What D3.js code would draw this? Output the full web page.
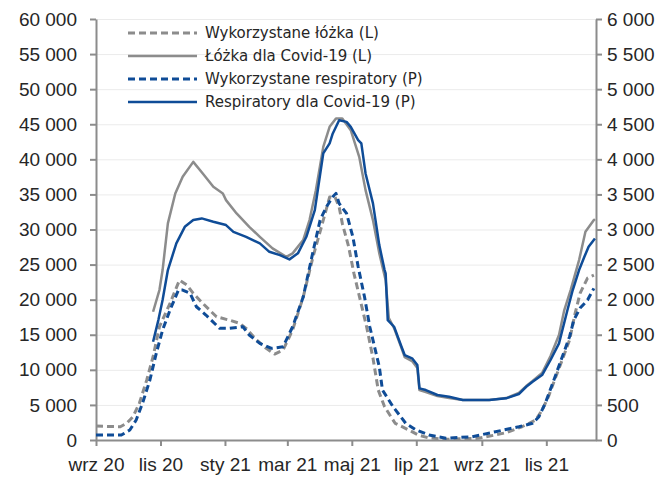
<!DOCTYPE html>
<html>
<head>
<meta charset="utf-8">
<script src="https://cdn.jsdelivr.net/npm/d3@7"></script>
<style>
  body { margin: 0; background: #fff; }
  svg { display: block; font-family: "DejaVu Sans", sans-serif; }
  .grid line { stroke: #ebebeb; stroke-width: 1; }
  .grid .domain { display: none; }
  .axis .domain, .axis line { stroke: #8c8c8c; stroke-width: 2; }
  .axis text { fill: #262626; font-size: 19px; }
</style>
</head>
<body>
<div id="chart"></div>
<script>
// wykorzystane lozka (lewa os)
var bedsUsed = [
  ["2020-09-01", 2000], ["2020-09-14", 1920], ["2020-09-24", 1890], ["2020-09-30", 2380],
  ["2020-10-06", 3320], ["2020-10-12", 5230], ["2020-10-19", 8550], ["2020-10-25", 11870],
  ["2020-10-31", 16140], ["2020-11-10", 19470], ["2020-11-19", 22790], ["2020-11-26", 22080],
  ["2020-12-02", 20900], ["2020-12-11", 19470], ["2020-12-24", 17560], ["2021-01-05", 17090],
  ["2021-01-15", 16620], ["2021-01-21", 15910], ["2021-01-31", 14250], ["2021-02-09", 13060],
  ["2021-02-17", 12250], ["2021-02-25", 12820], ["2021-03-06", 15670], ["2021-03-16", 20370],
  ["2021-03-25", 25930], ["2021-04-04", 31340], ["2021-04-10", 34620], ["2021-04-15", 34660],
  ["2021-04-19", 33230], ["2021-04-22", 30870], ["2021-04-28", 27540], ["2021-05-03", 23750],
  ["2021-05-09", 19940], ["2021-05-15", 16140], ["2021-05-21", 11680], ["2021-05-26", 7120],
  ["2021-06-01", 4740], ["2021-06-11", 2380], ["2021-06-24", 1420], ["2021-07-03", 710],
  ["2021-07-12", 330], ["2021-07-28", 100], ["2021-08-29", 240], ["2021-09-24", 1040],
  ["2021-10-09", 1890], ["2021-10-22", 2850], ["2021-10-28", 4270], ["2021-11-03", 6170],
  ["2021-11-10", 9020], ["2021-11-16", 11400], ["2021-11-23", 14250], ["2021-11-28", 17900],
  ["2021-12-03", 20940], ["2021-12-10", 23080], ["2021-12-16", 23500]
];

// lozka dla Covid-19 (lewa os)
var bedsTotal = [
  ["2020-10-25", 18280], ["2020-10-31", 21370], ["2020-11-03", 24220], ["2020-11-08", 30870],
  ["2020-11-15", 35140], ["2020-11-22", 37510], ["2020-12-02", 39640], ["2020-12-11", 37990],
  ["2020-12-21", 36080], ["2020-12-30", 35140], ["2021-01-02", 34190], ["2021-01-12", 32290],
  ["2021-01-24", 30380], ["2021-02-03", 28960], ["2021-02-15", 27310], ["2021-02-28", 26110],
  ["2021-03-06", 26600], ["2021-03-16", 28490], ["2021-03-22", 31340], ["2021-03-28", 35610],
  ["2021-04-04", 41780], ["2021-04-10", 44630], ["2021-04-16", 45830], ["2021-04-22", 45830],
  ["2021-04-30", 44160], ["2021-05-08", 40360], ["2021-05-14", 35610], ["2021-05-21", 31340],
  ["2021-05-27", 26600], ["2021-06-02", 22790], ["2021-06-05", 17380], ["2021-06-10", 15950],
  ["2021-06-17", 13110], ["2021-06-20", 11820], ["2021-06-27", 11250], ["2021-07-02", 10260],
  ["2021-07-04", 7120], ["2021-07-10", 6840], ["2021-07-21", 6270], ["2021-08-01", 5980],
  ["2021-08-14", 5700], ["2021-09-08", 5700], ["2021-09-24", 5980], ["2021-10-06", 6700],
  ["2021-10-13", 7690], ["2021-10-19", 8400], ["2021-10-28", 9540], ["2021-11-05", 11970],
  ["2021-11-13", 14960], ["2021-11-18", 18520], ["2021-11-24", 21370], ["2021-12-02", 25640],
  ["2021-12-08", 29670], ["2021-12-16", 31340], ["2021-12-17", 31480]
];

// wykorzystane respiratory (prawa os)
var ventUsed = [
  ["2020-09-01", 71], ["2020-09-25", 71], ["2020-10-03", 142], ["2020-10-09", 285],
  ["2020-10-15", 523], ["2020-10-22", 855], ["2020-10-28", 1235], ["2020-11-03", 1567],
  ["2020-11-10", 1852], ["2020-11-18", 2137], ["2020-11-22", 2137], ["2020-11-29", 2090],
  ["2020-12-05", 1899], ["2020-12-14", 1781], ["2020-12-27", 1591], ["2021-01-05", 1591],
  ["2021-01-18", 1614], ["2021-01-24", 1496], ["2021-02-03", 1377], ["2021-02-14", 1306],
  ["2021-02-25", 1329], ["2021-03-06", 1614], ["2021-03-16", 2037], ["2021-03-25", 2664],
  ["2021-04-01", 3134], ["2021-04-07", 3323], ["2021-04-13", 3466], ["2021-04-16", 3514],
  ["2021-04-19", 3372], ["2021-04-26", 3229], ["2021-05-02", 2896], ["2021-05-07", 2469],
  ["2021-05-13", 2041], ["2021-05-18", 1614], ["2021-05-27", 1044], ["2021-05-30", 712],
  ["2021-06-09", 474], ["2021-06-21", 238], ["2021-07-01", 142], ["2021-07-13", 71],
  ["2021-07-29", 24], ["2021-08-23", 47], ["2021-09-14", 118], ["2021-10-06", 189],
  ["2021-10-19", 238], ["2021-10-25", 332], ["2021-10-31", 523], ["2021-11-07", 808],
  ["2021-11-15", 1140], ["2021-11-23", 1472], ["2021-11-27", 1709], ["2021-12-03", 1880],
  ["2021-12-10", 1994], ["2021-12-16", 2161]
];

// respiratory dla Covid-19 (prawa os)
var ventTotal = [
  ["2020-10-25", 1400], ["2020-10-30", 1709], ["2020-11-03", 1994], ["2020-11-08", 2422],
  ["2020-11-16", 2802], ["2020-11-24", 3038], ["2020-12-02", 3134], ["2020-12-10", 3158],
  ["2020-12-21", 3110], ["2021-01-02", 3063], ["2021-01-09", 2967], ["2021-01-21", 2896],
  ["2021-02-03", 2802], ["2021-02-12", 2682], ["2021-02-22", 2635], ["2021-03-03", 2574],
  ["2021-03-11", 2660], ["2021-03-19", 2896], ["2021-03-27", 3276], ["2021-04-04", 4084],
  ["2021-04-10", 4227], ["2021-04-13", 4369], ["2021-04-19", 4558], ["2021-04-26", 4534],
  ["2021-04-30", 4463], ["2021-05-07", 4274], ["2021-05-10", 4227], ["2021-05-14", 3799],
  ["2021-05-21", 3372], ["2021-05-27", 2778], ["2021-06-01", 2422], ["2021-06-02", 2375],
  ["2021-06-04", 1709], ["2021-06-10", 1614], ["2021-06-17", 1329], ["2021-06-20", 1211],
  ["2021-06-27", 1164], ["2021-07-02", 1068], ["2021-07-04", 736], ["2021-07-10", 712],
  ["2021-07-21", 641], ["2021-08-01", 617], ["2021-08-14", 570], ["2021-09-08", 570],
  ["2021-09-24", 594], ["2021-10-06", 655], ["2021-10-13", 759], ["2021-10-19", 830],
  ["2021-10-28", 926], ["2021-11-05", 1140], ["2021-11-13", 1377], ["2021-11-21", 1852],
  ["2021-11-26", 2137], ["2021-12-02", 2422], ["2021-12-07", 2611], ["2021-12-11", 2754],
  ["2021-12-17", 2873]
];

var xTickDates = ["2020-09-01", "2020-11-01", "2021-01-01", "2021-03-01", "2021-05-01", "2021-07-01", "2021-09-01", "2021-11-01"];
var xTickLabels = ["wrz 20", "lis 20", "sty 21", "mar 21", "maj 21", "lip 21", "wrz 21", "lis 21"];
var leftTicks = d3.range(0, 60001, 5000);
var rightTicks = d3.range(0, 6001, 500);

var legendNames = ["Wykorzystane łóżka (L)", "Łóżka dla Covid-19 (L)", "Wykorzystane respiratory (P)", "Respiratory dla Covid-19 (P)"];

var gray = "#8c8c8c", blue = "#0f4c97";

var width = 670, height = 477;
var margin = { top: 19, right: 74, bottom: 37, left: 96 };
var w = width - margin.left - margin.right;
var h = height - margin.top - margin.bottom;

var parseDate = d3.timeParse("%Y-%m-%d");
var fmt = d3.formatLocale({ decimal: ",", thousands: " ", grouping: [3], currency: ["", ""] }).format(",d");

var svg = d3.select("#chart").append("svg")
        .attr("width", width)
        .attr("height", height);
var g = svg.append("g").attr("transform", "translate(" + margin.left + "," + margin.top + ")");

var xscale = d3.scaleTime()
        .domain([parseDate("2020-09-01"), parseDate("2021-12-18")])
        .range([0, w]);
var yleft = d3.scaleLinear().domain([0, 60000]).range([h, 0]);
var yright = d3.scaleLinear().domain([0, 6000]).range([h, 0]);

// gridlines
g.append("g")
        .attr("class", "grid")
        .call(d3.axisLeft(yleft).tickValues(leftTicks).tickSize(-w).tickFormat(""));

// axes
g.append("g")
        .attr("class", "axis")
        .call(d3.axisLeft(yleft).tickValues(leftTicks).tickSize(6).tickPadding(13).tickSizeOuter(0).tickFormat(fmt));
g.append("g")
        .attr("class", "axis")
        .attr("transform", "translate(" + w + ",0)")
        .call(d3.axisRight(yright).tickValues(rightTicks).tickSize(6).tickPadding(5).tickSizeOuter(0).tickFormat(fmt));
g.append("g")
        .attr("class", "axis")
        .attr("transform", "translate(0," + h + ")")
        .call(d3.axisBottom(xscale)
                .tickValues(xTickDates.map(parseDate))
                .tickSize(6).tickPadding(12).tickSizeOuter(0)
                .tickFormat(function (d, i) { return xTickLabels[i]; }));

// series
function makeLine(y) {
        return d3.line()
                .x(function (d) { return xscale(parseDate(d[0])); })
                .y(function (d) { return y(d[1]); });
}

var series = [
        { data: bedsUsed, y: yleft, color: gray, dash: "7,4", width: 3 },
        { data: bedsTotal, y: yleft, color: gray, dash: null, width: 2.5 },
        { data: ventUsed, y: yright, color: blue, dash: "7,4", width: 3 },
        { data: ventTotal, y: yright, color: blue, dash: null, width: 2.5 }
];

series.forEach(function (s) {
        g.append("path")
                .datum(s.data)
                .attr("fill", "none")
                .attr("stroke", s.color)
                .attr("stroke-width", s.width)
                .attr("stroke-linejoin", "round")
                .attr("stroke-dasharray", s.dash)
                .attr("d", makeLine(s.y));
});

// legend
var legend = svg.append("g").attr("transform", "translate(128,33)");
series.forEach(function (s, i) {
        var row = legend.append("g").attr("transform", "translate(0," + (i * 23) + ")");
        row.append("line")
                .attr("x1", 0).attr("x2", 69)
                .attr("stroke", s.color)
                .attr("stroke-width", s.width)
                .attr("stroke-dasharray", s.dash);
        row.append("text")
                .attr("x", 77)
                .attr("dy", "0.35em")
                .attr("fill", "#262626")
                .attr("font-size", "15px")
                .text(legendNames[i]);
});
</script>
</body>
</html>
